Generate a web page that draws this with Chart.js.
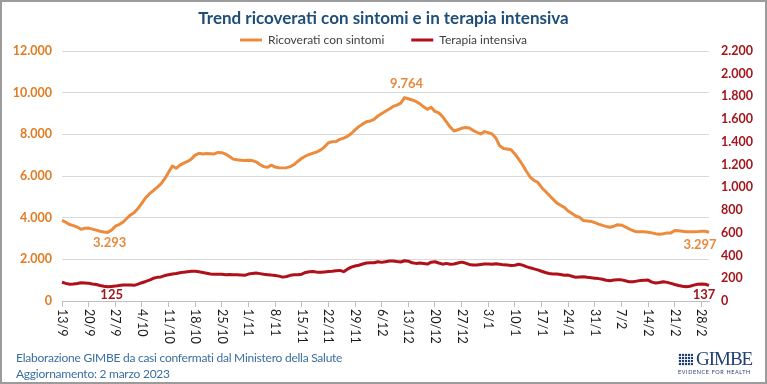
<!DOCTYPE html>
<html lang="it">
<head>
<meta charset="utf-8">
<script src="https://cdn.jsdelivr.net/npm/chart.js@4/dist/chart.umd.min.js"></script>
<style>
html,body{margin:0;padding:0;background:#fff;}
#wrap{position:relative;width:767px;height:384px;overflow:hidden;font-family:Lato,"Open Sans",sans-serif;}
#c{position:absolute;left:0;top:0;}
#frame{position:absolute;left:0;top:0;width:767px;height:384px;box-sizing:border-box;border:2px solid #9b9b9b;pointer-events:none;}
#title{position:absolute;left:0;width:767px;top:7px;text-align:center;font-weight:bold;font-size:17px;line-height:22px;color:#1F4E79;}
.foot{position:absolute;left:16px;font-size:12px;letter-spacing:-0.25px;line-height:15px;color:#3A6FA0;white-space:nowrap;}
#logo{position:absolute;left:678px;top:350px;width:76px;height:26px;color:#1F3E73;}
#icon{position:absolute;left:0;top:3px;width:15px;height:13px;background-color:#1F3E73;
 background-image:linear-gradient(90deg,rgba(255,255,255,.85) 1px,transparent 1px),linear-gradient(rgba(255,255,255,.85) 1px,transparent 1px);
 background-size:3px 3px;}
#gimbe{position:absolute;left:18px;top:0;font-family:"Liberation Serif","DejaVu Serif",serif;font-size:19px;line-height:18px;letter-spacing:-1px;white-space:nowrap;}
#ev{position:absolute;left:0;top:19px;font-size:5.5px;letter-spacing:0.6px;white-space:nowrap;font-family:Lato,sans-serif;}
</style>
</head>
<body>
<div id="wrap">
  <canvas id="c" width="767" height="384"></canvas>
  <div id="title">Trend ricoverati con sintomi e in terapia intensiva</div>
  <div class="foot" style="top:350px">Elaborazione GIMBE da casi confermati dal Ministero della Salute</div>
  <div class="foot" style="top:366px">Aggiornamento: 2 marzo 2023</div>
  <div id="logo"><div id="icon"></div><span id="gimbe">GIMBE</span><div id="ev">EVIDENCE FOR HEALTH</div></div>
  <div id="frame"></div>
</div>
<script>
// ---- DATA ----
const seriesNames = ['Ricoverati con sintomi', 'Terapia intensiva'];
const startDate = [2022, 8, 13]; // 13/9/2022
const numDays = 171;             // 13/9/2022 .. 2/3/2023
const weekLabels = ['13/9','20/9','27/9','4/10','11/10','18/10','25/10','1/11','8/11','15/11','22/11','29/11','6/12','13/12','20/12','27/12','3/1','10/1','17/1','24/1','31/1','7/2','14/2','21/2','28/2'];
const leftTicks = [0,2000,4000,6000,8000,10000,12000];
const rightTicks = [0,200,400,600,800,1000,1200,1400,1600,1800,2000,2200];

const ricoverati = [
3870,3780,3670,3620,3550,3440,3490,3500,3450,3400,
3350,3310,3293,3400,3590,3670,3780,3960,4130,4250,
4450,4700,4960,5150,5300,5450,5620,5870,6180,6480,
6370,6520,6620,6700,6820,7000,7090,7060,7080,7070,
7060,7130,7120,7050,6940,6810,6780,6760,6740,6760,
6740,6680,6550,6450,6420,6520,6430,6400,6390,6400,
6450,6550,6710,6850,6960,7040,7100,7160,7250,7400,
7600,7640,7650,7760,7820,7900,8040,8210,8370,8500,
8600,8640,8720,8880,9000,9110,9220,9340,9400,9500,
9764,9710,9650,9580,9470,9320,9200,9300,9100,9030,
8850,8600,8350,8160,8220,8290,8330,8300,8190,8100,
8020,8130,8080,8020,7820,7450,7320,7300,7260,7060,
6810,6540,6230,5950,5790,5700,5450,5270,5080,4890,
4710,4600,4490,4320,4200,4080,4010,3860,3840,3820,
3760,3690,3630,3580,3540,3590,3660,3640,3560,3460,
3380,3320,3320,3320,3300,3270,3230,3200,3230,3270,
3270,3380,3370,3350,3320,3320,3320,3330,3350,3350,3297];

const terapiaIntensiva = [
165,155,147,149,154,161,159,156,150,145,
137,130,125,128,131,137,141,141,140,138,
148,161,172,184,200,208,212,224,231,237,
242,249,254,258,261,261,257,251,245,238,
235,236,236,231,233,232,231,229,226,237,
243,246,241,236,232,228,225,219,210,216,
226,230,231,236,251,257,260,254,253,256,
259,261,266,269,258,280,298,308,315,326,
334,337,337,345,340,346,352,352,347,343,
354,350,336,331,335,330,325,342,345,334,
324,331,324,326,334,342,334,322,316,317,
321,325,326,323,327,323,318,316,313,315,
324,316,303,292,283,274,262,251,242,238,
238,233,226,228,218,208,212,214,209,205,
201,197,191,182,178,184,186,186,178,170,
170,175,180,183,184,166,158,162,169,164,
155,145,136,129,125,130,140,148,150,147,137];

// categories (daily dates)
const categories = [];
for (let i = 0; i < numDays; i++) {
  const d = new Date(Date.UTC(startDate[0], startDate[1], startDate[2] + i));
  categories.push(d.getUTCDate() + '/' + (d.getUTCMonth() + 1));
}

const fmt = v => String(Math.round(v)).replace(/\B(?=(\d{3})+(?!\d))/g, '.');
const ORANGE = '#EC8B3C', ORANGE_TXT = '#E07B22', RED = '#B0101A', RED_TXT = '#A3151C';

const annotations = [
  {ds:0, idx:12, dx:2, dy:10, color:'#E8893D'},
  {ds:0, idx:90, dx:2, dy:-14, color:'#E8893D'},
  {ds:0, idx:numDays-1, dx:-9, dy:12, color:'#E8893D'},
  {ds:1, idx:12, dx:4, dy:8.5, color:RED_TXT},
  {ds:1, idx:numDays-1, dx:-5, dy:9, color:RED_TXT}
];

const customDraw = {
  id: 'customDraw',
  afterDraw(chart) {
    const ctx = chart.ctx;
    const xs = chart.scales.x;
    ctx.save();
    ctx.fillStyle = '#1a1a1a';
    ctx.font = '12.5px Lato';
    ctx.textAlign = 'left';
    ctx.textBaseline = 'middle';
    weekLabels.forEach(lab => {
      const idx = categories.indexOf(lab);
      if (idx < 0) return;
      const x = xs.getPixelForValue(idx);
      ctx.save();
      ctx.translate(x, xs.top + 8);
      ctx.rotate(Math.PI / 2);
      ctx.fillText(lab, 0, 0);
      ctx.restore();
    });
    ctx.font = 'bold 13px Lato';
    ctx.textAlign = 'center';
    annotations.forEach(a => {
      const pt = chart.getDatasetMeta(a.ds).data[a.idx];
      const v = chart.data.datasets[a.ds].data[a.idx];
      ctx.fillStyle = a.color;
      ctx.fillText(fmt(v), pt.x + a.dx, pt.y + a.dy);
    });
    ctx.restore();
  }
};

new Chart(document.getElementById('c'), {
  type: 'line',
  data: {
    labels: categories,
    datasets: [
      {label: seriesNames[0], data: ricoverati, yAxisID: 'y', borderColor: ORANGE, backgroundColor: ORANGE, borderWidth: 3, pointRadius: 0, tension: 0, borderJoinStyle: 'round'},
      {label: seriesNames[1], data: terapiaIntensiva, yAxisID: 'y1', borderColor: RED, backgroundColor: RED, borderWidth: 3, pointRadius: 0, tension: 0, borderJoinStyle: 'round'}
    ]
  },
  options: {
    responsive: false,
    animation: false,
    devicePixelRatio: 1,
    layout: {padding: {left: 8, right: 8, top: 7, bottom: 39}},
    plugins: {
      title: {display: false},
      tooltip: {enabled: false},
      legend: {
        display: true,
        position: 'top',
        maxHeight: 44,
        labels: {
          color: '#404040',
          font: {family: 'Lato', size: 12},
          boxWidth: 22,
          boxHeight: 3,
          padding: 27,
          generateLabels: (chart) => Chart.defaults.plugins.legend.labels.generateLabels(chart).map(l => Object.assign(l, {lineWidth: 0}))
        }
      }
    },
    scales: {
      x: {
        type: 'category',
        offset: false,
        afterFit: s => { s.height = 44; },
        ticks: {display: false, autoSkip: false},
        grid: {
          drawOnChartArea: false,
          drawTicks: true,
          tickLength: 6,
          color: c => (weekLabels.includes(categories[c.index]) ? '#BFBFBF' : 'rgba(0,0,0,0)')
        },
        border: {display: true, color: '#BFBFBF'}
      },
      y: {
        position: 'left',
        min: 0, max: 12000,
        afterFit: s => { s.width = 54; },
        afterBuildTicks: s => { s.ticks = leftTicks.map(v => ({value: v})); },
        ticks: {color: ORANGE_TXT, font: {family: 'Lato', size: 12.5, weight: 'bold'}, padding: 10, callback: v => fmt(v)},
        grid: {color: '#D9D9D9', lineWidth: 1, drawTicks: false},
        border: {display: false}
      },
      y1: {
        position: 'right',
        min: 0, max: 2200,
        afterFit: s => { s.width = 50; },
        afterBuildTicks: s => { s.ticks = rightTicks.map(v => ({value: v})); },
        ticks: {color: RED_TXT, font: {family: 'Lato', size: 12.5, weight: 'bold'}, padding: 12, callback: v => fmt(v)},
        grid: {drawOnChartArea: false, drawTicks: false},
        border: {display: false}
      }
    }
  },
  plugins: [customDraw]
});
</script>
</body>
</html>
